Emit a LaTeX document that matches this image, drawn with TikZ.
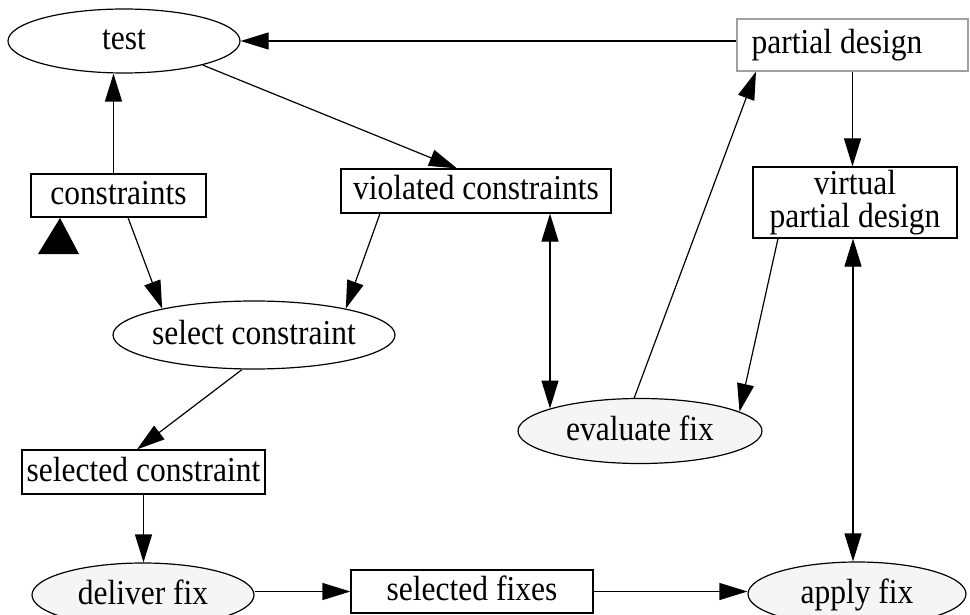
\documentclass[tikz,border=0pt]{standalone}
\usepackage{fontspec}
\setmainfont{Liberation Serif}[FakeStretch=0.9]
\usetikzlibrary{shapes.geometric,arrows.meta}
\definecolor{nodefill}{HTML}{F5F5F5}
\definecolor{pdgray}{HTML}{A0A0A0}
\begin{document}
\begin{tikzpicture}[x=1pt,y=-1pt,
  lblfont/.style={font=\fontsize{35}{33}\selectfont, inner sep=0pt},
  oneline/.style={lblfont, text height=25pt, text depth=7pt},
  ell/.style={oneline, ellipse, draw, line width=1.2pt},
  box/.style={oneline, rectangle, draw, line width=1.2pt},
  mbox/.style={lblfont, rectangle, draw, line width=1.2pt, align=center},
  arr/.style={line width=1.2pt, -{Triangle[length=28pt,width=17pt]}},
  darr/.style={line width=1.2pt, {Triangle[length=28pt,width=17pt]}-{Triangle[length=28pt,width=17pt]}}]
\useasboundingbox (0,0) rectangle (970,615);

% nodes
\node[ell, minimum width=232pt, minimum height=64pt] (test) at (124,41) {\makebox[0pt]{test}};
\node[box, draw=pdgray, minimum width=231pt, minimum height=52pt] (pd) at (852.5,45) {\makebox[0pt]{partial design\kern31pt}};
\node[box, minimum width=175pt, minimum height=43pt] (cons) at (118.5,195.5) {\makebox[0pt]{constraints}};
\node[box, minimum width=270pt, minimum height=44pt] (viol) at (476,191) {\makebox[0pt]{violated constraints}};
\node[mbox, minimum width=204pt, minimum height=71pt] (virt) at (855,202.5) {virtual\\partial design};
\node[ell, minimum width=282pt, minimum height=68pt] (sel) at (254,335) {\makebox[0pt]{select constraint}};
\node[box, minimum width=243pt, minimum height=44pt] (selc) at (143.5,472) {\makebox[0pt]{selected constraint}};
\node[ell, fill=nodefill, minimum width=244pt, minimum height=65pt] (eval) at (640,431) {\makebox[0pt]{evaluate fix}};
\node[ell, fill=nodefill, minimum width=222pt, minimum height=64pt] (deliv) at (143,595) {\makebox[0pt]{deliver fix}};
\node[box, minimum width=242pt, minimum height=43pt] (self) at (472,591.5) {\makebox[0pt]{selected fixes}};
\node[ell, fill=nodefill, minimum width=218pt, minimum height=64pt] (apply) at (857,594) {\makebox[0pt]{apply fix}};

% loose triangle under constraints
\fill (60,218) -- (38,254) -- (79,254) -- cycle;

% edges
\draw[arr] (pd.west |- test.east) -- (test.east);
\draw[arr] (test.-17) -- ([xshift=-19pt]viol.north);
\draw[arr] ([xshift=-5pt]cons.north) -- ([xshift=-5pt]cons.north |- test.south);
\draw[arr] ([xshift=9.5pt]cons.south) -- (sel.164);
\draw[arr] ([xshift=-96pt]viol.south) -- (sel.16);
\draw[arr] (sel.-109) -- ([xshift=-6.5pt]selc.north);
\draw[arr] (selc.south) -- (selc.south |- deliv.north);
\draw[arr] (deliv.east |- self.west) -- (self.west);
\draw[arr] (self.east) -- (self.east -| apply.west);
\draw[darr] ([xshift=74pt]viol.south) -- ([xshift=74pt]viol.south |- eval.166);
\draw[arr] (eval.100) -- ([xshift=-96.5pt]pd.south);
\draw[arr] ([xshift=-77pt]virt.south) -- (eval.11);
\draw[darr] ([xshift=-2pt]virt.south) -- ([xshift=-2pt]virt.south |- apply.north);
\draw[arr] (pd.south) -- (pd.south |- virt.north);
\end{tikzpicture}
\end{document}
